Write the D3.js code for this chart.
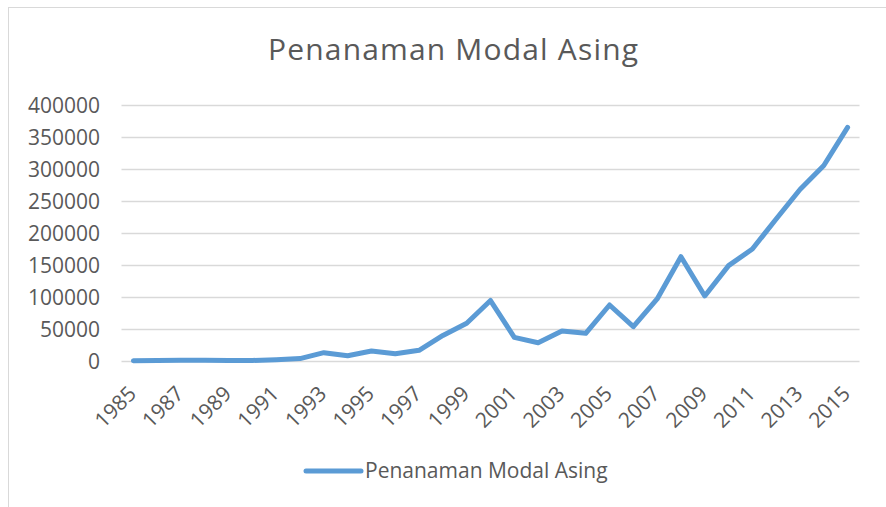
<!DOCTYPE html>
<html>
<head>
<meta charset="utf-8">
<script src="https://cdn.jsdelivr.net/npm/d3@7"></script>
<style>
  html, body { margin: 0; padding: 0; background: #fff; }
  svg { display: block; }
  text { font-family: "Open Sans", sans-serif; fill: #595959; }
</style>
</head>
<body>
<svg id="chart" width="886" height="507"></svg>
<script>
const title = "Penanaman Modal Asing";
const seriesName = "Penanaman Modal Asing";
const years = [1985,1986,1987,1988,1989,1990,1991,1992,1993,1994,1995,1996,1997,1998,1999,2000,2001,2002,2003,2004,2005,2006,2007,2008,2009,2010,2011,2012,2013,2014,2015];
const values = [500,600,1000,1000,900,900,2000,3800,13000,8300,15600,11400,16700,40000,59000,94500,37000,28600,47000,43200,87500,53600,97000,163000,101600,149000,175000,221900,268000,305500,365000];
const yTicks = [0,50000,100000,150000,200000,250000,300000,350000,400000];
const xTickLabels = years.filter((d, i) => i % 2 === 0);

const svg = d3.select("#chart");
const W = 886, H = 507;

// outer chart border
svg.append("rect").attr("x", 8.5).attr("y", 7.5).attr("width", W + 10).attr("height", H + 10)
  .attr("fill", "#fff").attr("stroke", "#d9d9d9").attr("stroke-width", 1);

const x = d3.scaleBand().domain(years).range([121.5, 859.5]).padding(0);
const y = d3.scaleLinear().domain([0, 400000]).range([361, 105]);

// gridlines
svg.append("g").selectAll("line").data(yTicks).join("line")
  .attr("x1", 121.5).attr("x2", 859.5)
  .attr("y1", d => Math.round(y(d)) + 0.5).attr("y2", d => Math.round(y(d)) + 0.5)
  .attr("stroke", "#d9d9d9").attr("stroke-width", 1.3);

// y axis labels
const yAxis = d3.axisLeft(y).tickValues(yTicks).tickSize(0).tickPadding(0).tickFormat(d3.format("d"));
const gy = svg.append("g").attr("transform", "translate(100,0)").call(yAxis);
gy.select(".domain").remove();
gy.selectAll("text").attr("font-size", 21).attr("font-family", "Open Sans").attr("fill", "#595959").attr("dy", "0.36em");

// x axis labels
const xAxis = d3.axisBottom(x).tickValues(xTickLabels).tickSize(0).tickPadding(0);
const gx = svg.append("g").attr("transform", "translate(0,361)").call(xAxis);
gx.select(".domain").remove();
gx.selectAll("text")
  .attr("font-size", 21).attr("font-family", "Open Sans").attr("fill", "#595959")
  .attr("text-anchor", "end")
  .attr("dy", null).attr("y", 0)
  .attr("transform", "translate(4,34) rotate(-45)");

// line
const line = d3.line().x((d, i) => x(years[i]) + x.bandwidth() / 2).y(d => y(d));
svg.append("path").datum(values).attr("d", line)
  .attr("fill", "none").attr("stroke", "#5b9bd5").attr("stroke-width", 5)
  .attr("stroke-linejoin", "round").attr("stroke-linecap", "round");

// title
svg.append("text").attr("x", 453).attr("y", 60).attr("text-anchor", "middle")
  .attr("font-size", 30).attr("textLength", 370).attr("lengthAdjust", "spacing").text(title);

// legend
svg.append("line").attr("x1", 306).attr("x2", 361).attr("y1", 471).attr("y2", 471)
  .attr("stroke", "#5b9bd5").attr("stroke-width", 5).attr("stroke-linecap", "round");
svg.append("text").attr("x", 365).attr("y", 478).attr("font-size", 21).text(seriesName);
</script>
</body>
</html>
